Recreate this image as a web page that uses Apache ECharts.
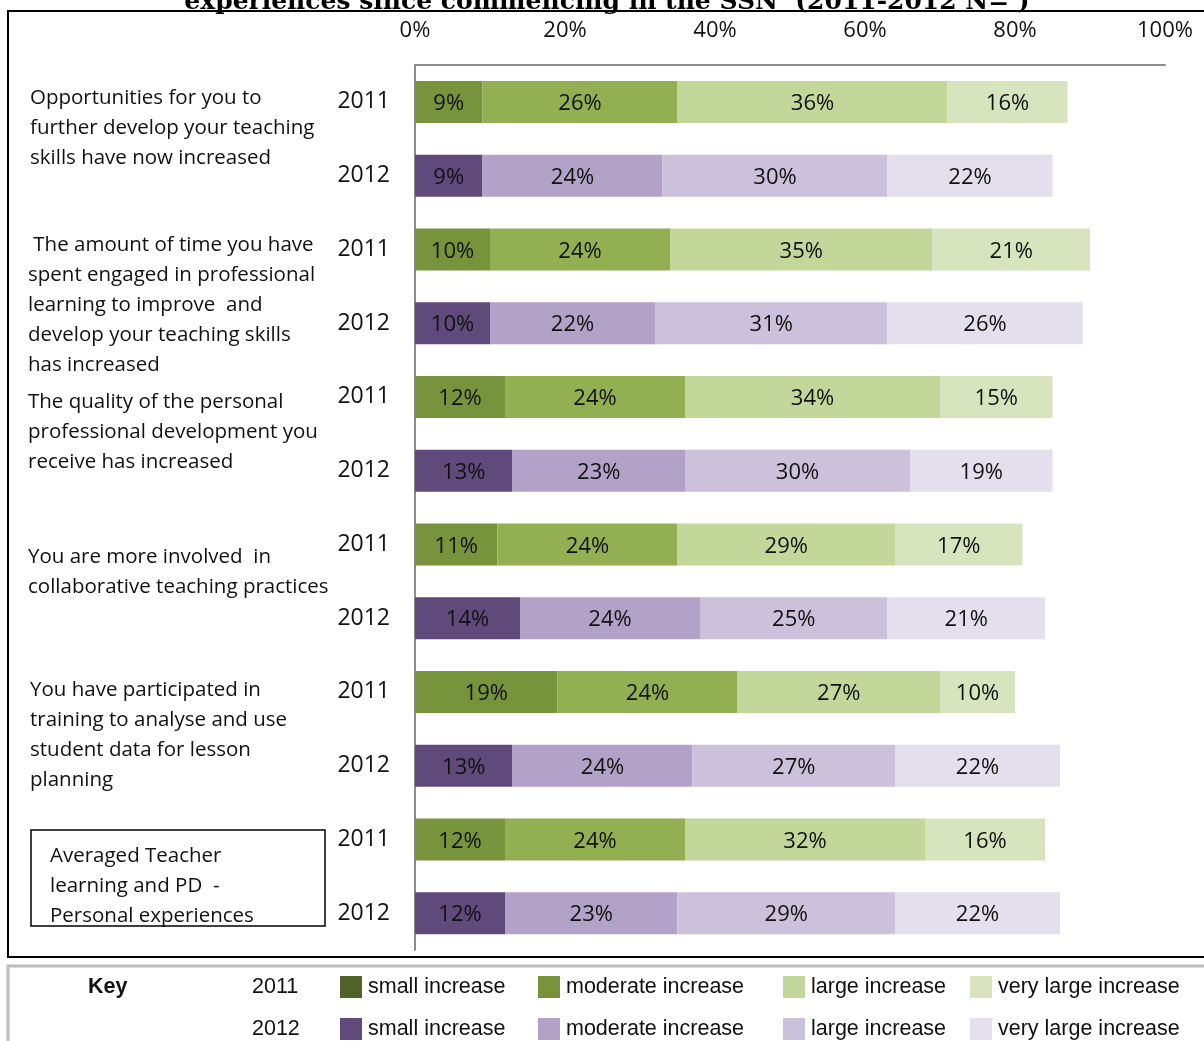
<!DOCTYPE html>
<html>
<head>
<meta charset="utf-8">
<script src="https://cdn.jsdelivr.net/npm/echarts@6/dist/echarts.min.js"></script>
<style>
  html, body { margin: 0; padding: 0; background: #fff; }
  #chart { width: 1204px; height: 1041px; }
</style>
</head>
<body>
<div id="chart"></div>
<script>
// Survey items (one pair of bars per item: 2011 then 2012)
const questions = [
  'Opportunities for you to\nfurther develop your teaching\nskills have now increased',
  ' The amount of time you have\nspent engaged in professional\nlearning to improve  and\ndevelop your teaching skills\nhas increased',
  'The quality of the personal\nprofessional development you\nreceive has increased',
  'You are more involved  in\ncollaborative teaching practices',
  'You have participated in\ntraining to analyse and use\nstudent data for lesson\nplanning',
  'Averaged Teacher\nlearning and PD  -\nPersonal experiences'
];
const years = ['2011', '2012'];
const levels = ['small increase', 'moderate increase', 'large increase', 'very large increase'];

// Percentages per level, one value per item
const small2011 = [9, 10, 12, 11, 19, 12];
const moderate2011 = [26, 24, 24, 24, 24, 24];
const large2011 = [36, 35, 34, 29, 27, 32];
const veryLarge2011 = [16, 21, 15, 17, 10, 16];

const small2012 = [9, 10, 13, 14, 13, 12];
const moderate2012 = [24, 22, 23, 24, 24, 23];
const large2012 = [30, 31, 30, 25, 27, 29];
const veryLarge2012 = [22, 26, 19, 21, 22, 22];

const xTicks = [0, 20, 40, 60, 80, 100];

// Colours
const barColors2011 = ['#77933c', '#92b052', '#c4d79b', '#d7e4bd'];
const barColors2012 = ['#604a7b', '#b2a2c7', '#ccc1da', '#e4dfec'];
const keyColors2011 = ['#4f6228', '#77933c', '#c3d69b', '#d7e4bd'];
const keyColors2012 = ['#604a7b', '#b3a2c7', '#ccc1da', '#e5e0ec'];

const values2011 = [small2011, moderate2011, large2011, veryLarge2011];
const values2012 = [small2012, moderate2012, large2012, veryLarge2012];

const FONT = '"Open Sans", Lato, sans-serif';
const KEY_FONT = '"Liberation Sans", Arial, sans-serif';

// One row per (item, year)
const rowYears = [];
questions.forEach(() => years.forEach(y => rowYears.push(y)));

function seriesFor(yearIdx, levelIdx) {
  const src = yearIdx === 0 ? values2011 : values2012;
  const colors = yearIdx === 0 ? barColors2011 : barColors2012;
  const data = [];
  questions.forEach((q, qi) => {
    years.forEach((y, yi) => {
      data.push(yi === yearIdx ? src[levelIdx][qi] : '-');
    });
  });
  return {
    name: years[yearIdx] + ' ' + levels[levelIdx],
    type: 'bar',
    stack: 'total',
    barWidth: 42,
    data: data,
    itemStyle: { color: colors[levelIdx] },
    label: {
      show: true,
      position: 'inside',
      offset: [0, 2],
      formatter: '{c}%',
      fontFamily: FONT,
      fontSize: 22,
      color: '#111'
    },
    emphasis: { disabled: true }
  };
}

const series = [];
[0, 1].forEach(yi => levels.forEach((l, li) => series.push(seriesFor(yi, li))));

// Key: one legend entry per swatch, laid out in two rows
const keyX = [340, 538, 783, 970];
const keyY = [976, 1018];
const legends = [];
[0, 1].forEach(yi => {
  levels.forEach((l, li) => {
    legends.push({
      show: true,
      left: keyX[li],
      top: keyY[yi],
      padding: 0,
      itemWidth: 22,
      itemHeight: 22,
      icon: 'rect',
      selectedMode: false,
      data: [{
        name: years[yi] + ' ' + l,
        itemStyle: { color: (yi === 0 ? keyColors2011 : keyColors2012)[li] }
      }],
      formatter: name => name.replace(/^\d{4} /, ''),
      textStyle: {
        fontFamily: KEY_FONT,
        fontSize: 21.5,
        color: '#111',
        padding: [0, 0, 0, 1]
      }
    });
  });
});

// Item text blocks on the left
const qPos = [
  { x: 30, y: 83 },
  { x: 28, y: 230 },
  { x: 28, y: 387 },
  { x: 28, y: 542 },
  { x: 30, y: 675 },
  { x: 50, y: 841 }
];

const graphics = [
  // chart frame
  {
    type: 'rect', silent: true, z: -1,
    shape: { x: 8, y: 11, width: 1250, height: 946 },
    style: { fill: 'none', stroke: '#000', lineWidth: 2 }
  },
  // title (runs off the top edge)
  {
    type: 'text', silent: true,
    x: 607, y: 2,
    style: {
      text: 'experiences since commencing in the SSN  (2011-2012 N= )',
      fontFamily: '"DejaVu Serif", "Liberation Serif", serif',
      fontWeight: 'bold',
      fontSize: 25,
      fill: '#000',
      align: 'center',
      verticalAlign: 'middle'
    }
  },
  // key panel border
  {
    type: 'polyline', silent: true,
    shape: { points: [[8, 1045], [8, 966], [1210, 966]] },
    style: { fill: 'none', stroke: '#bdbdbd', lineWidth: 3 }
  },
  {
    type: 'text', silent: true, x: 88, y: 987,
    style: {
      text: 'Key', fontFamily: KEY_FONT,
      fontWeight: 'bold', fontSize: 21.5, fill: '#111', verticalAlign: 'middle'
    }
  }
];

years.forEach((y, yi) => {
  graphics.push({
    type: 'text', silent: true, x: 252, y: keyY[yi] + 11,
    style: {
      text: y, fontFamily: KEY_FONT,
      fontSize: 21.5, fill: '#111', verticalAlign: 'middle'
    }
  });
});

questions.forEach((q, qi) => {
  graphics.push({
    type: 'text', silent: true,
    x: qPos[qi].x, y: qPos[qi].y,
    style: {
      text: q, fontFamily: FONT, fontSize: 20.5, lineHeight: 30,
      fill: '#111', verticalAlign: 'top'
    }
  });
});

// box round the averaged item
graphics.push({
  type: 'rect', silent: true,
  shape: { x: 31, y: 830, width: 294, height: 96 },
  style: { fill: 'none', stroke: '#000', lineWidth: 1.5 }
});

const chart = echarts.init(document.getElementById('chart'), null, { renderer: 'canvas' });
chart.setOption({
  animation: false,
  backgroundColor: '#fff',
  grid: { left: 415, right: 39, top: 65, height: 885, containLabel: false },
  legend: legends,
  xAxis: {
    type: 'value',
    position: 'top',
    min: xTicks[0],
    max: xTicks[xTicks.length - 1],
    interval: xTicks[1] - xTicks[0],
    axisLine: { show: true, lineStyle: { color: '#8c8c8c', width: 2 } },
    axisTick: { show: false },
    splitLine: { show: false },
    axisLabel: {
      formatter: '{value}%',
      margin: 23,
      fontFamily: FONT,
      fontSize: 22,
      color: '#111'
    }
  },
  yAxis: {
    type: 'category',
    inverse: true,
    data: rowYears,
    axisLine: { show: true, lineStyle: { color: '#8c8c8c', width: 2 } },
    axisTick: { show: false },
    axisLabel: {
      margin: 25,
      padding: [3, 0, 0, 0],
      fontFamily: FONT,
      fontSize: 23,
      color: '#111'
    }
  },
  series: series,
  graphic: graphics
});
</script>
</body>
</html>
